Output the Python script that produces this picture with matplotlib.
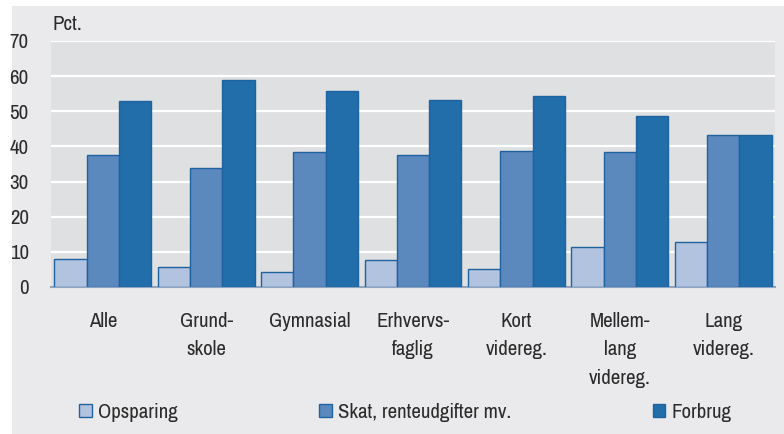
import matplotlib.pyplot as plt
import matplotlib.patches as mpatches
from matplotlib import font_manager
import numpy as np

# pick a narrow face if one is installed
names = sorted({f.name for f in font_manager.fontManager.ttflist})
narrow = [n for n in names if 'Condensed' in n or 'Narrow' in n]

categories = ["Alle", "Grund-\nskole", "Gymnasial", "Erhvervs-\nfaglig",
              "Kort\nvidereg.", "Mellem-\nlang\nvidereg.", "Lang\nvidereg."]
opsparing = [8.0, 5.7, 4.2, 7.7, 5.2, 11.3, 12.7]
skat = [37.6, 33.9, 38.3, 37.6, 38.6, 38.4, 43.2]
forbrug = [52.9, 58.9, 55.8, 53.1, 54.4, 48.7, 43.2]
series_names = ["Opsparing", "Skat, renteudgifter mv.", "Forbrug"]
yticks = [0, 10, 20, 30, 40, 50, 60, 70]

plt.rcParams['font.family'] = (narrow[:1] or ['Lato']) + ['DejaVu Sans']

colors = ['#b2c3e0', '#5b88bd', '#216eab']
edge = '#1f62a2'
txt = '#2b2b2b'
fs = 15

fig = plt.figure(figsize=(7.84, 4.34), dpi=100, facecolor='#eaeaec')
# thin white strips on the left and top
fig.patches.append(mpatches.Rectangle((0, 0), 12 / 784, 1, transform=fig.transFigure,
                                      facecolor='white', edgecolor='none', zorder=-5))
fig.patches.append(mpatches.Rectangle((0, 1 - 6 / 434), 1, 1, transform=fig.transFigure,
                                      facecolor='white', edgecolor='none', zorder=-5))

ax = fig.add_axes([51 / 784, 1 - 287 / 434, 724 / 784, 246 / 434])
ax.set_facecolor('#dfe0e2')

x = np.arange(len(categories))
w = 0.3125
for i, (vals, c, name) in enumerate(zip([opsparing, skat, forbrug], colors, series_names)):
    ax.bar(x + (i - 1) * w, vals, width=w, color=c, edgecolor=edge,
           linewidth=1, label=name, zorder=3)

ax.set_xlim(-0.5, len(categories) - 0.5)
ax.set_ylim(0, 70)
ax.set_yticks(yticks)
ax.yaxis.grid(True, color='white', linewidth=1.6, zorder=1)
ax.set_axisbelow(True)
for s in ['top', 'right', 'left']:
    ax.spines[s].set_visible(False)
ax.spines['bottom'].set_color('#8ea4bf')
ax.spines['bottom'].set_linewidth(1.5)

ax.set_xticks(x)
ax.set_xticklabels(categories, linespacing=1.62)
ax.tick_params(axis='both', length=0, labelsize=fs, colors=txt)
ax.tick_params(axis='x', pad=18)
ax.tick_params(axis='y', pad=16)

fig.text(52 / 784, 1 - 25 / 434, "Pct.", fontsize=fs, color=txt, va='center', ha='left')

leg = fig.legend(loc='center left', bbox_to_anchor=(79 / 784, 1 - 412 / 434), ncol=3,
                 frameon=False, fontsize=fs, handlelength=0.6, handleheight=0.6,
                 handletextpad=0.3, columnspacing=6.8, borderaxespad=0, borderpad=0)
for t in leg.get_texts():
    t.set_color(txt)

fig.savefig('out.png', dpi=100, facecolor=fig.get_facecolor())
